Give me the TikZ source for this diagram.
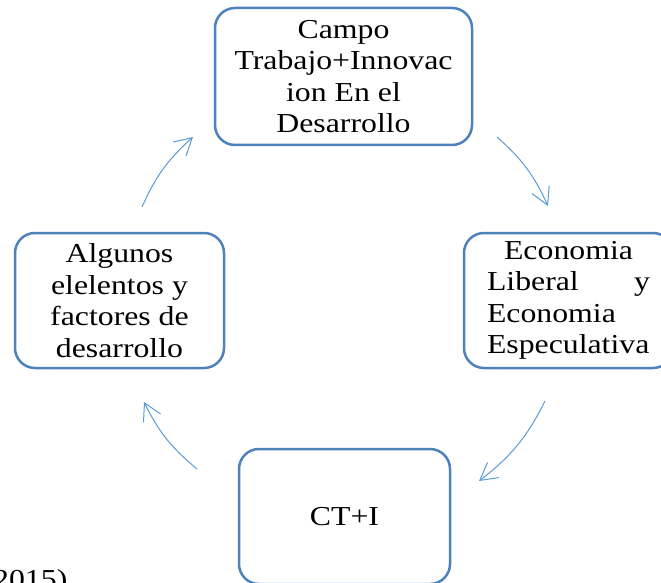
\documentclass[tikz,border=0pt]{standalone}
\usepackage{fontspec}
\setmainfont{Liberation Serif}[FakeStretch=1.16]
\usetikzlibrary{arrows.meta}
\definecolor{boxblue}{RGB}{79,129,189}
\definecolor{arrowblue}{RGB}{91,155,213}

\begin{document}
\begin{tikzpicture}[x=1pt,y=1pt,yscale=-1,xscale=1,
  cyclebox/.style={draw=boxblue, line width=2.5pt, rounded corners=20pt, inner sep=0pt, align=center, minimum width=209pt, minimum height=135pt, font=\fontsize{27.4}{31.5}\selectfont},
  cyclearrow/.style={draw=arrowblue, line width=1pt, -{Straight Barb[length=17pt,width=19pt]}}]
%set diagram size to 661 x 583
\path[use as bounding box, clip] (0,0) rectangle (661,583);

% Box Node
\node[cyclebox, minimum width=257pt, minimum height=137pt] (campo) at (343.5,76.5) {Campo\\ Trabajo+Innovac\\ ion En el\\ Desarrollo};
% Box Node
\node[cyclebox, text width=163pt, align=left] (econ) at (568.5,300.5) {\hfill Economia\hfill\null\\ Liberal\hfill y\\ Economia\\ Especulativa};
% Box Node
\node[cyclebox, minimum width=211pt] (ctmi) at (344.5,516.5) {CT+I};
% Box Node
\node[cyclebox] (algunos) at (119.5,300.5) {Algunos\\ elelentos y\\ factores de\\ desarrollo};
% Text Node
\node[anchor=base west, inner sep=0pt, font=\fontsize{27.4}{31.5}\selectfont] (fuente) at (-7,588.5) {2015)};

% arrow ends
\coordinate (a1s) at (142,207); \coordinate (a1e) at (193,137);
\coordinate (a2s) at (497,137); \coordinate (a2e) at (548,206);
\coordinate (a3s) at (545,401); \coordinate (a3e) at (479,481);
\coordinate (a4s) at (197,469); \coordinate (a4e) at (144,402);

% Connection
\draw[cyclearrow] (a1s) to[bend right=12] (a1e);
% Connection
\draw[cyclearrow] (a2s) to[bend right=12] (a2e);
% Connection
\draw[cyclearrow] (a3s) to[bend right=13] (a3e);
% Connection
\draw[cyclearrow] (a4s) to[bend right=12] (a4e);

\end{tikzpicture}
\end{document}
